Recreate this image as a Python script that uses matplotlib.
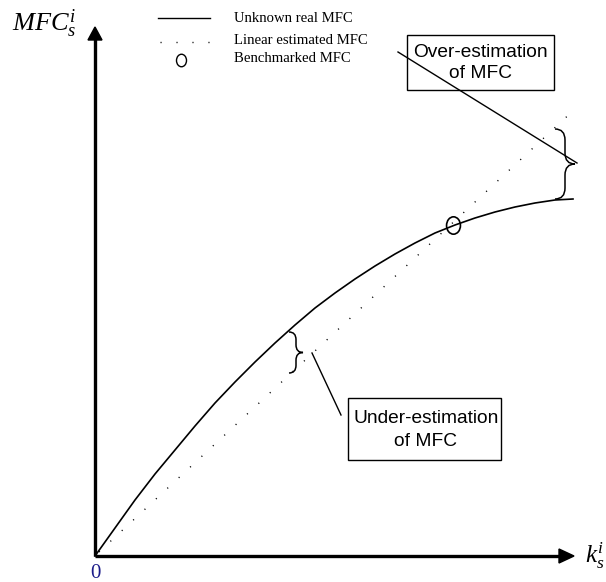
import matplotlib
matplotlib.use("Agg")
import matplotlib.pyplot as plt
from matplotlib.path import Path
from matplotlib.patches import PathPatch, Rectangle, Polygon
from matplotlib.transforms import Affine2D

plt.rcParams["mathtext.fontset"] = "custom"
plt.rcParams["mathtext.rm"] = "Liberation Serif"
plt.rcParams["mathtext.it"] = "Liberation Serif:italic"

# unknown real MFC curve
real_x = [0, 20, 40, 60, 80, 100, 120, 140, 160, 180, 200, 220, 240,
          260, 280, 300, 320, 340, 360, 380, 400, 420, 440, 460, 478]
real_y = [0, 28, 56, 82, 106, 130, 153, 174, 194, 213, 231, 248, 263,
          277, 290, 302, 313, 323, 331, 338, 344, 349, 353, 356, 357]

# linear estimate through the origin and the benchmark
linear_x = [4, 481]
linear_y = [4, 448]

# benchmarked point
bench_x = [358]
bench_y = [331]

legend_labels = ["Unknown real MFC", "Linear estimated MFC", "Benchmarked MFC"]
note_labels = ["Over-estimation\nof MFC", "Under-estimation\nof MFC"]


def brace_path(x0, y_bot, y_top, w):
    r = w * 0.55
    xm = x0 + w / 2
    ym = (y_bot + y_top) / 2
    verts = [
        (x0, y_top), (xm, y_top), (xm, y_top - r),
        (xm, ym + r),
        (xm, ym), (x0 + w, ym),
        (xm, ym), (xm, ym - r),
        (xm, y_bot + r),
        (xm, y_bot), (x0, y_bot),
    ]
    codes = [Path.MOVETO, Path.CURVE3, Path.CURVE3,
             Path.LINETO,
             Path.CURVE3, Path.CURVE3,
             Path.CURVE3, Path.CURVE3,
             Path.LINETO,
             Path.CURVE3, Path.CURVE3]
    return Path(verts, codes)


fig = plt.figure(figsize=(6.06, 5.82), dpi=100)
ax = fig.add_axes([0, 0, 1, 1])
ax.set_xlim(-95, 511)
ax.set_ylim(-26, 556)
ax.axis("off")

# axes with arrow heads
ax.plot([0, 0], [0, 518], color="black", lw=2.4, solid_capstyle="butt")
ax.plot([0, 466], [0, 0], color="black", lw=2.4, solid_capstyle="butt")
ax.add_patch(Polygon([[-7, 516], [7, 516], [0, 529]], closed=True, color="black"))
ax.add_patch(Polygon([[464, 7], [464, -7], [479, 0]], closed=True, color="black"))

ax.text(-51, 532, r"$MFC_s^i$", fontsize=19, ha="center", va="center")
ax.text(500, 0, r"$k_s^i$", fontsize=18, ha="center", va="center")
ax.text(0, -18, "0", fontsize=15, family="Liberation Serif", color="#1c1c8a",
        ha="center", va="center")

# curves
ax.plot(real_x, real_y, color="black", lw=1.2)
ax.plot(linear_x, linear_y, color="black", lw=1.0, linestyle=(0, (0.8, 10.4)))

ell = Path.unit_circle().transformed(Affine2D().scale(0.8, 1.0))
ax.plot(bench_x, bench_y, linestyle="none", marker=ell, markersize=12.5,
        markerfacecolor="none", markeredgecolor="black", markeredgewidth=1.2)

# legend
ax.plot([63, 115], [538, 538], color="black", lw=1.0)
ax.plot([65, 118], [514, 514], color="black", lw=1.0, linestyle=(0, (0.8, 10.7)))
ax.plot([86], [496], linestyle="none", marker=ell, markersize=9,
        markerfacecolor="none", markeredgecolor="black", markeredgewidth=1.0)
for label, ly in zip(legend_labels, [538, 516, 497]):
    ax.text(139, ly, label, fontsize=10.6, family="Liberation Serif",
            ha="left", va="center")

# braces
ax.add_patch(PathPatch(brace_path(460, 357, 427, 20), fill=False, lw=1.1))
ax.add_patch(PathPatch(brace_path(194, 183, 224, 14), fill=False, lw=1.1))

# leader lines
ax.plot([303, 482], [504, 393], color="black", lw=1.0)
ax.plot([217, 246], [203, 141], color="black", lw=1.0)

# note boxes
ax.add_patch(Rectangle((312, 466), 147, 55, fill=False, lw=1.0))
ax.add_patch(Rectangle((253, 96), 153, 62, fill=False, lw=1.0))
ax.text(385.5, 493, note_labels[0], fontsize=13.8, family="Liberation Sans",
        ha="center", va="center", multialignment="center", linespacing=1.38)
ax.text(331, 126, note_labels[1], fontsize=13.8, family="Liberation Sans",
        ha="center", va="center", multialignment="center", linespacing=1.45)

fig.savefig("out.png", dpi=100)
